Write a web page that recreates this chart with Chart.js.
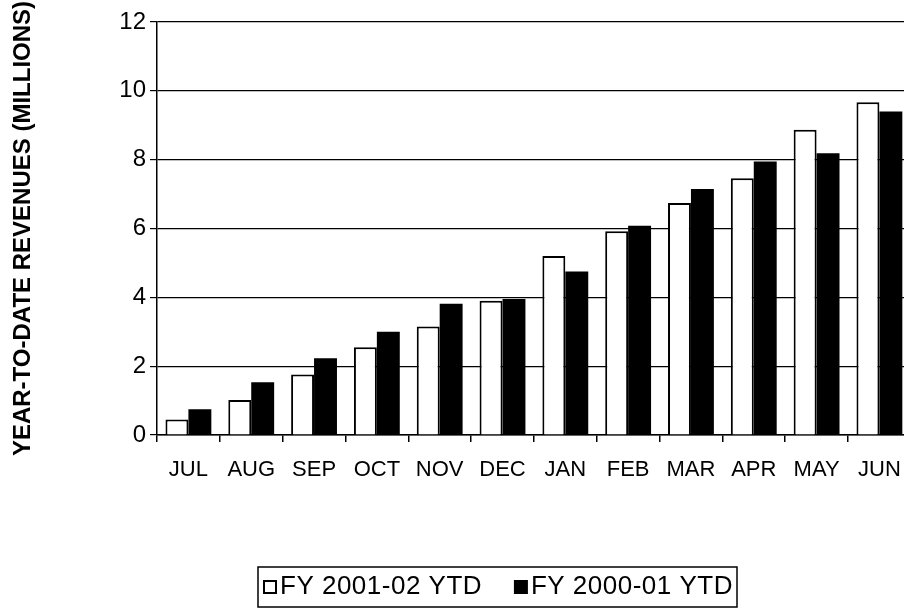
<!DOCTYPE html>
<html>
<head>
<meta charset="utf-8">
<title>Year-to-date revenues</title>
<script src="https://cdn.jsdelivr.net/npm/chart.js@4.4.1/dist/chart.umd.min.js"></script>
<style>
  html, body { margin: 0; padding: 0; background: #fff; overflow: hidden; }
  #wrap { width: 904px; height: 616px; overflow: hidden; }
</style>
</head>
<body>
<div id="wrap"><canvas id="chart" width="916" height="616"></canvas></div>
<script>
const meses = ["JUL", "AUG", "SEP", "OCT", "NOV", "DEC", "JAN", "FEB", "MAR", "APR", "MAY", "JUN"];
const ytd0102 = [0.45, 1.02, 1.76, 2.55, 3.15, 3.9, 5.2, 5.92, 6.74, 7.46, 8.87, 9.67];
const ytd0001 = [0.75, 1.53, 2.23, 3.0, 3.81, 3.95, 4.75, 6.08, 7.15, 7.95, 8.19, 9.4];
const nombreSerie0102 = "FY 2001-02 YTD";
const nombreSerie0001 = "FY 2000-01 YTD";
const tituloEjeY = "YEAR-TO-DATE REVENUES (MILLIONS)";

const fuente = "'Liberation Sans', Arial, sans-serif";

// leyenda con recuadro, dibujada a mano para controlar posiciones
const leyendaRecuadro = {
  id: "leyendaRecuadro",
  afterDraw(chart) {
    const ctx = chart.ctx;
    const caja = { left: 258, right: 737, top: 567, bottom: 607 };
    const yTexto = 587;
    const lado = 14;

    ctx.save();
    ctx.font = "26px " + fuente;
    ctx.letterSpacing = "0.5px";
    ctx.textBaseline = "middle";

    ctx.lineWidth = 1.5;
    ctx.strokeStyle = "#000";
    ctx.strokeRect(caja.left, caja.top, caja.right - caja.left, caja.bottom - caja.top);

    const datasets = chart.data.datasets;
    const ancho2 = ctx.measureText(datasets[1].label).width;

    // primer elemento
    let x = caja.left + 5;
    ctx.lineWidth = 2;
    ctx.fillStyle = "#fff";
    ctx.fillRect(x, yTexto - lado / 2, lado, lado);
    ctx.strokeRect(x + 1, yTexto - lado / 2 + 1, lado - 2, lado - 2);
    ctx.fillStyle = "#000";
    ctx.fillText(datasets[0].label, x + lado + 3, yTexto);

    // segundo elemento, pegado al borde derecho del recuadro
    const xTexto2 = caja.right - 4 - ancho2;
    x = xTexto2 - lado - 3;
    ctx.fillRect(x, yTexto - lado / 2, lado, lado);
    ctx.fillText(datasets[1].label, xTexto2, yTexto);

    ctx.restore();
  }
};

new Chart(document.getElementById("chart"), {
  type: "bar",
  data: {
    labels: meses,
    datasets: [
      {
        label: nombreSerie0102,
        data: ytd0102,
        backgroundColor: "#ffffff",
        borderColor: "#000000",
        borderWidth: 2
      },
      {
        label: nombreSerie0001,
        data: ytd0001,
        backgroundColor: "#000000",
        borderColor: "#000000",
        borderWidth: 0
      }
    ]
  },
  options: {
    responsive: false,
    animation: false,
    categoryPercentage: 0.73,
    barPercentage: 1.0,
    layout: {
      padding: { top: 22, right: 5, bottom: 0, left: 0 }
    },
    plugins: {
      legend: { display: false },
      tooltip: { enabled: false }
    },
    scales: {
      x: {
        afterFit(scale) {
          scale.height = 181;
        },
        ticks: {
          color: "#000",
          padding: 15,
          maxRotation: 0,
          autoSkip: false,
          font: { family: fuente, size: 22 }
        },
        grid: {
          offset: true,
          drawOnChartArea: false,
          drawTicks: true,
          tickLength: 7,
          color: "#000",
          lineWidth: 1.5
        },
        border: { display: true, color: "#000", width: 1.5 }
      },
      y: {
        min: 0,
        max: 12,
        afterFit(scale) {
          scale.width = 157;
        },
        ticks: {
          stepSize: 2,
          color: "#000",
          padding: 4,
          font: { family: fuente, size: 24 }
        },
        grid: {
          color: "#000",
          lineWidth: 1.2,
          drawTicks: true,
          tickLength: 7
        },
        border: { display: true, color: "#000", width: 1.5 },
        title: {
          display: true,
          text: tituloEjeY,
          color: "#000",
          padding: { top: 9, bottom: 0 },
          font: { family: fuente, size: 24, weight: "bold" }
        }
      }
    }
  },
  plugins: [leyendaRecuadro]
});
</script>
</body>
</html>
